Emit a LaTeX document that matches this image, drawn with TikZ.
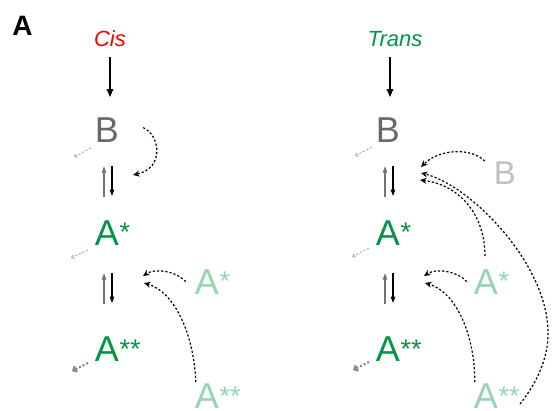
\documentclass[tikz,border=0pt]{standalone}
\usepackage{fontspec}
\setmainfont{Liberation Sans}
\usetikzlibrary{arrows.meta,calc}
\definecolor{cgreen}{RGB}{0,150,70}
\definecolor{clight}{RGB}{150,212,178}
\definecolor{cgray}{RGB}{105,105,105}
\definecolor{clgray}{RGB}{192,192,192}
\definecolor{cred}{RGB}{250,0,0}
\definecolor{carrgray}{RGB}{115,115,115}
\definecolor{csmall}{RGB}{175,175,175}
\definecolor{cthick}{RGB}{135,135,135}
\newcommand{\supst}[2]{\rlap{\kern0.5pt\raisebox{#1}{\fontsize{27}{27}\selectfont #2}}}
\begin{document}
\begin{tikzpicture}[x=1pt,y=-1pt,
  big/.style={font=\fontsize{36}{36}\selectfont, inner sep=0pt, anchor=base},
  lbl/.style={font=\fontsize{22}{22}\selectfont\itshape, inner sep=0pt, anchor=base},
  mainarr/.style={-{Triangle[length=8pt,width=6.5pt]}, line width=1.5pt, black},
  uparr/.style={-{Triangle[length=6.5pt,width=4.5pt]}, line width=1.1pt, carrgray},
  downarr/.style={-{Triangle[length=6.5pt,width=4.5pt]}, line width=1.1pt, black},
  effarr/.style={-{Stealth[length=6.5pt,width=6pt]}, line width=1.2pt, black, dash pattern=on 2.2pt off 2pt},
  smallarr/.style={-{Straight Barb[length=2.5pt,width=4pt]}, line width=0.9pt, csmall, dash pattern=on 2.5pt off 1.5pt},
  thickarr/.style={-{Straight Barb[length=3pt,width=6pt]}, line width=2.2pt, cthick, dash pattern=on 2pt off 2pt}
]
\useasboundingbox (0,0) rectangle (555,411);

% panel label
\node[font=\fontsize{28}{28}\selectfont\bfseries, inner sep=0pt, anchor=base] (lab) at (22.5,36) {A};

% ---------------- Cis ----------------
\node[lbl, text=cred] (cis) at (110,47) {Cis};
\node[big, text=cgray] (b1) at (107,143) {B};
\node[big, text=cgreen] (a1) at (107,246) {A\supst{4pt}{*}};
\node[big, text=cgreen] (aa1) at (107,362) {A\supst{3pt}{**}};
\node[big, text=clight] (la1) at (207,295) {A\supst{4pt}{*}};
\node[big, text=clight] (laa1) at (207,409) {A\supst{3pt}{**}};

\draw[mainarr, shorten <=10pt, shorten >=21pt] (cis.south) -- (cis.south |- b1.north);

\draw[uparr] ($(a1.north)+(-3,-24)$) -- ($(b1.south)+(-3,23)$);
\draw[downarr] ($(b1.south)+(5,23)$) -- ($(a1.north)+(5,-25)$);
\draw[uparr] ($(aa1.north)+(-3,-33)$) -- ($(a1.south)+(-3,27)$);
\draw[downarr] ($(a1.south)+(5,27)$) -- ($(aa1.north)+(5,-34)$);

\draw[smallarr] ($(b1.base)+(-16,5)$) -- ($(b1.base)+(-33,14)$);
\draw[smallarr] ($(a1.base)+(-19,4)$) -- ($(a1.base)+(-36,12)$);
\draw[thickarr] ($(aa1.base)+(-19,1)$) -- ($(aa1.base)+(-35,9)$);

\coordinate (tL1) at (133,175);
\coordinate (tL2) at (143,276);
\coordinate (tL3) at (144,283);
\draw[effarr] ($(b1.east)+(24,-3)$) .. controls (160,135) and (165,168) .. (tL1);
\draw[effarr] ($(la1.west)+(-9,-1)$) .. controls (176,271) and (155,268) .. (tL2);
\draw[effarr] ($(laa1.north west)+(1,-2)$) .. controls (194,335) and (175,292) .. (tL3);

% ---------------- Trans ----------------
\node[lbl, text=cgreen] (trans) at (395,47) {Trans};
\node[big, text=cgray] (b2) at (388,143) {B};
\node[big, text=cgreen] (a2) at (388,246) {A\supst{4pt}{*}};
\node[big, text=cgreen] (aa2) at (388,362) {A\supst{3pt}{**}};
\node[big, text=clgray, font=\fontsize{33}{33}\selectfont] (lb2) at (505,185) {B};
\node[big, text=clight] (la2) at (486,295) {A\supst{4pt}{*}};
\node[big, text=clight] (laa2) at (486,409) {A\supst{3pt}{**}};

\coordinate (tr0) at ($(trans.south)+(-5,10)$);
\draw[mainarr, shorten >=21pt] (tr0) -- (tr0 |- b2.north);

\draw[uparr] ($(a2.north)+(-3,-24)$) -- ($(b2.south)+(-3,23)$);
\draw[downarr] ($(b2.south)+(5,23)$) -- ($(a2.north)+(5,-25)$);
\draw[uparr] ($(aa2.north)+(-3,-33)$) -- ($(a2.south)+(-3,27)$);
\draw[downarr] ($(a2.south)+(5,27)$) -- ($(aa2.north)+(5,-34)$);

\draw[smallarr] ($(b2.base)+(-16,4)$) -- ($(b2.base)+(-33,13)$);
\draw[smallarr] ($(a2.base)+(-19,2)$) -- ($(a2.base)+(-36,11)$);
\draw[thickarr] ($(aa2.base)+(-19,0)$) -- ($(aa2.base)+(-35,8)$);

\coordinate (tR1) at (421,167);
\coordinate (tR3) at (421,173);
\coordinate (tR2) at (420,180);
\coordinate (tR4) at (424,276);
\coordinate (tR5) at (425,283);
\draw[effarr] ($(lb2.north west)+(-9,-1)$) .. controls (472,148) and (440,148) .. (tR1);
\draw[effarr] ($(la2.north)+(-1,-14)$) .. controls (485,215) and (460,185) .. (tR2);
\draw[effarr] ($(laa2.base)+(34,-5)$) .. controls (535,385) and (549,360) .. (548,330)
   .. controls (546,262) and (470,185) .. (tR3);
\draw[effarr] ($(la2.west)+(-7,-1)$) .. controls (457,271) and (436,268) .. (tR4);
\draw[effarr] ($(laa2.north west)+(1,-2)$) .. controls (475,335) and (456,292) .. (tR5);
\end{tikzpicture}
\end{document}
